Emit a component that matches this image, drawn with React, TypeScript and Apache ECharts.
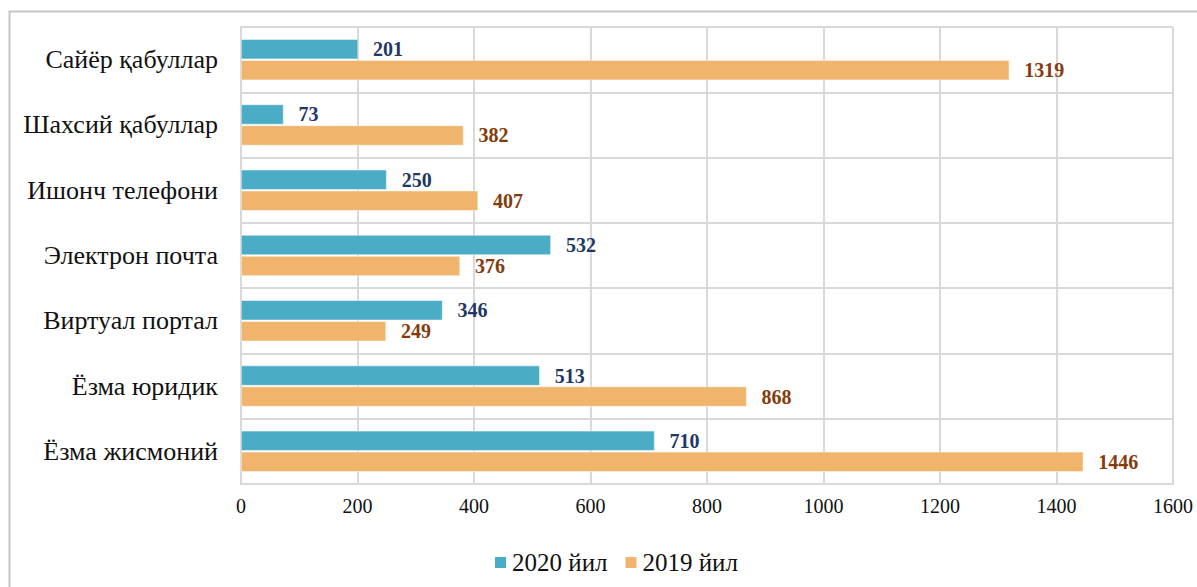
import React, { useEffect, useRef } from "react";
import * as echarts from "echarts";

const categories = [
  "Ёзма жисмоний",
  "Ёзма юридик",
  "Виртуал портал",
  "Электрон почта",
  "Ишонч телефони",
  "Шахсий қабуллар",
  "Сайёр қабуллар",
];
const values2020 = [710, 513, 346, 532, 250, 73, 201];
const values2019 = [1446, 868, 249, 376, 407, 382, 1319];
const seriesNames = ["2020 йил", "2019 йил"];

const FONT = "'Liberation Serif', 'Times New Roman', Tinos, serif";

export default function App() {
  const ref = useRef<HTMLDivElement>(null);
  useEffect(() => {
    if (!ref.current) return;
    const chart = echarts.init(ref.current, null, { renderer: "svg" });
    chart.setOption({
      animation: false,
      backgroundColor: "#ffffff",
      graphic: [
        {
          type: "rect",
          shape: { x: 9.5, y: 11.5, width: 1200, height: 600 },
          style: { fill: "none", stroke: "#c6c6c6", lineWidth: 2 },
          silent: true,
        },
      ],
      grid: { left: 241, right: 24, top: 27, bottom: 103, containLabel: false },
      legend: {
        bottom: 7,
        left: 488,
        itemWidth: 13,
        itemHeight: 13,
        itemGap: 16,
        icon: "rect",
        textStyle: { fontFamily: FONT, fontSize: 25, color: "#111" },
        data: seriesNames,
      },
      xAxis: {
        type: "value",
        min: 0,
        max: 1600,
        interval: 200,
        axisLine: { show: true, lineStyle: { color: "#d9d9d9", width: 2 } },
        axisTick: { show: false },
        axisLabel: {
          fontFamily: FONT,
          fontSize: 20,
          color: "#111",
          margin: 12,
          formatter: (v: number) => String(v),
        },
        splitLine: { show: true, lineStyle: { color: "#d9d9d9", width: 2 } },
      },
      yAxis: {
        type: "category",
        data: categories,
        axisLine: { show: true, lineStyle: { color: "#d9d9d9", width: 2 } },
        axisTick: { show: false },
        axisLabel: { fontFamily: FONT, fontSize: 26, color: "#111", margin: 23 },
        splitLine: { show: true, lineStyle: { color: "#d9d9d9", width: 2 } },
      },
      series: [
        {
          name: seriesNames[0],
          type: "bar",
          data: values2020,
          barWidth: 20,
          barGap: "5%",
          itemStyle: { color: "#4BACC6", borderColor: "#ffffff", borderWidth: 0.5 },
          label: {
            show: true,
            position: "right",
            distance: 15,
            fontFamily: FONT,
            fontSize: 20,
            fontWeight: "bold",
            color: "#1F3864",
          },
        },
        {
          name: seriesNames[1],
          type: "bar",
          data: values2019,
          barWidth: 20,
          barGap: "5%",
          itemStyle: { color: "#F0B46C", borderColor: "#ffffff", borderWidth: 0.5 },
          label: {
            show: true,
            position: "right",
            distance: 15,
            fontFamily: FONT,
            fontSize: 20,
            fontWeight: "bold",
            color: "#843C0C",
          },
        },
      ],
    });
    return () => chart.dispose();
  }, []);
  return (
    <div
      ref={ref}
      style={{ position: "fixed", left: 0, top: 0, width: 1197, height: 587 }}
    />
  );
}
